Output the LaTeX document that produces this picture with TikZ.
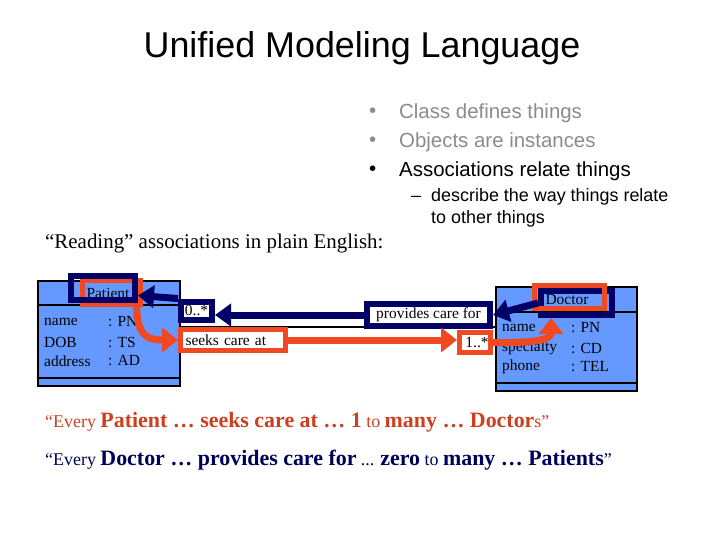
\documentclass[tikz,border=0pt]{standalone}
\usepackage{fontspec}
\setmainfont{Liberation Serif}
\newfontfamily\arialfont{Liberation Sans}
\usetikzlibrary{calc,arrows.meta,positioning}
\definecolor{umlblue}{RGB}{102,153,255}
\definecolor{hlnavy}{RGB}{0,0,102}
\definecolor{hlred}{RGB}{240,72,32}
\definecolor{readred}{RGB}{204,64,32}
\definecolor{readnavy}{RGB}{0,0,90}
\definecolor{bulletgray}{RGB}{140,140,140}
\newcommand{\strongword}[1]{{\fontsize{22}{24}\selectfont\bfseries #1}}
\tikzset{
    every node/.style={font=\fontsize{15.5}{18}\selectfont, inner sep=0pt},
    class node/.style={draw=black, line width=2bp, fill=umlblue},
    navy box/.style={draw=hlnavy, line width=6bp},
    red box/.style={draw=hlred, line width=5bp},
    label box/.style={fill=white},
    bullet node/.style={anchor=west, font=\arialfont\fontsize{20.5}{26}\selectfont}
}

\begin{document}
\begin{tikzpicture}[
            x = 1bp, y = -1bp, % pixel grid, top left origin
            navy arrow/.style = {draw = hlnavy, line width = 7bp, -{Triangle[length=16bp, width=22bp]}},
            red arrow/.style = {draw = hlred, line width = 7bp, -{Triangle[length=16bp, width=24bp]}}
        ]
        \useasboundingbox[fill = white] (0,0) rectangle (720,540);

        % title and bullets
        \node[font = \arialfont\fontsize{36}{40}\selectfont] (title) at (362,48) {Unified Modeling Language};

        \node[bullet node, text = bulletgray] (dot1) at (369,113) {•};
        \node[bullet node, text = bulletgray] (item1) at (399,113) {Class defines things};
        \node[bullet node, text = bulletgray] (dot2) at (369,142) {•};
        \node[bullet node, text = bulletgray] (item2) at (399,142) {Objects are instances};
        \node[bullet node] (dot3) at (369,171) {•};
        \node[bullet node] (item3) at (399,171) {Associations relate things};
        \node[anchor = west, font = \arialfont\fontsize{18}{22}\selectfont] (dash) at (411,199) {–};
        \node[anchor = north west, align = left, font = \arialfont\fontsize{18}{22}\selectfont] (sub) at (431,188) {describe the way things relate\\to other things};

        \node[anchor = west, font = \fontsize{21}{24}\selectfont] (reading) at (45,243) {“Reading” associations in plain English:};

        % classes
        \node[class node, minimum width = 142bp, minimum height = 105bp] (patient) at (109,333.5) {};
        \draw[line width = 2bp] ($(patient.north west)+(0,25)$) -- ($(patient.north east)+(0,25)$);
        \draw[line width = 2bp] ($(patient.south west)+(0,-9)$) -- ($(patient.south east)+(0,-9)$);
        \node[class node, minimum width = 141bp, minimum height = 104bp] (doctor) at (566.5,339) {};
        \draw[line width = 2bp] ($(doctor.north west)+(0,26)$) -- ($(doctor.north east)+(0,26)$);
        \draw[line width = 2bp] ($(doctor.south west)+(0,-9)$) -- ($(doctor.south east)+(0,-9)$);

        \node (patname) at (108,293) {Patient};
        \node[anchor = west] (pa1) at (44,322) {name};
        \node[anchor = west] (pv1) at (108,322) {: PN};
        \node[anchor = west] (pa2) at (44,342) {DOB};
        \node[anchor = west] (pv2) at (108,342) {: TS};
        \node[anchor = west] (pa3) at (44,361) {address};
        \node[anchor = west] (pv3) at (108,361) {: AD};

        \node (docname) at (567,300) {Doctor};
        \node[anchor = west] (da1) at (502,328) {name};
        \node[anchor = west] (dv1) at (571,328) {: PN};
        \node[anchor = west] (da2) at (502,348) {specialty};
        \node[anchor = west] (dv2) at (571,348) {: CD};
        \node[anchor = west] (da3) at (502,367) {phone};
        \node[anchor = west] (dv3) at (571,367) {: TEL};

        % association
        \coordinate (assoc) at (0,327);
        \draw[line width = 1.5bp] (patient.east |- assoc) -- (doctor.west |- assoc);

        \node[label box, navy box, minimum width = 31bp, minimum height = 18bp] (zero) at (196.5,310.5) {0..*};
        \node[label box, red box, inner xsep = 5bp, text width = 95bp, align = left, minimum height = 21bp] (seeks) at (233,340) {seeks care at};
        \node[label box, navy box, minimum width = 123bp, minimum height = 22bp] (provides) at (428.5,315) {provides care for};
        \node[label box, red box, minimum width = 31bp, minimum height = 20bp] (many) at (475,342.5) {\hspace{4bp}1..*};

        % highlights
        \node[red box, minimum width = 58bp, minimum height = 24bp] (patred) at (111.5,292.5) {};
        \node[navy box, minimum width = 64bp, minimum height = 24bp] (patnavy) at (103,288) {};
        \node[navy box, minimum width = 71bp, minimum height = 24bp] (docnavy) at (576.5,303) {};
        \node[red box, minimum width = 70bp, minimum height = 23bp] (docred) at (569.5,297) {};

        \draw[navy arrow] (provides.west) -- (zero.east |- provides.west);
        \draw[navy arrow] (zero.north west) -- ($(patnavy.east)!0.5!(patnavy.south east)$);
        \draw[navy arrow] (docnavy.west) -- (provides.east);

        \draw[red arrow] ($(patred.south)!0.8!(patred.south east)$) .. controls (137,338) and (150,340) .. (seeks.west);
        \draw[red arrow] (seeks.east) -- (many.west |- seeks.east);
        \draw[red arrow] (many.east) .. controls (535,343) and (551,340) .. ($(docnavy.south west)!0.17!(docnavy.south east)$);

        % reading the association
        \node[anchor = base west, text = readred, font = \fontsize{18}{20}\selectfont] (read1) at (45,427) {“Every \strongword{Patient … seeks care at … 1} to \strongword{many … Doctor}s”};
        \node[anchor = base west, text = readnavy, font = \fontsize{18}{20}\selectfont] (read2) at (45,465) {“Every \strongword{Doctor … provides care for} ... \strongword{zero} to \strongword{many … Patients}”};

\end{tikzpicture}
\end{document}
